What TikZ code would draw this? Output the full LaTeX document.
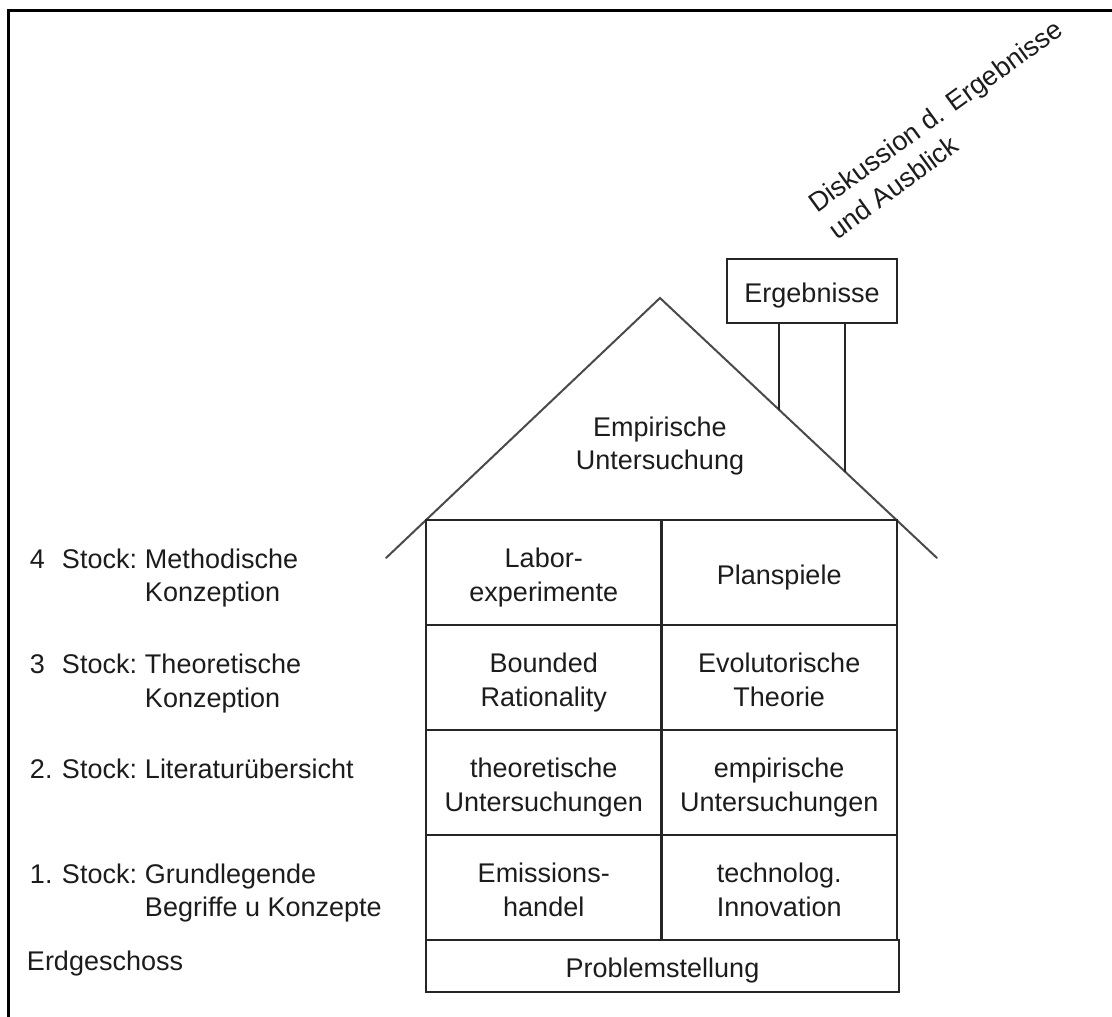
\documentclass[tikz,border=0pt]{standalone}
\usepackage{fontspec}
\setmainfont{Liberation Sans}
\usetikzlibrary{calc}
\definecolor{ink}{HTML}{1C1C1C}
\definecolor{wall}{HTML}{262626}
\definecolor{roofline}{HTML}{4A4A4A}
% zero-width strut: 29.5pt above and 6pt below the baseline
\newcommand\rowstrut{\rule[-6pt]{0pt}{35.5pt}}
\begin{document}
\begin{tikzpicture}[x=1pt,y=-1pt,
  txt/.style={font={\fontsize{27}{33.5}\selectfont\lineskiplimit=-100pt}, text=ink, inner sep=0pt, outer sep=0pt},
  cell/.style={txt, draw=wall, line width=2.4pt, minimum width=235.5pt, minimum height=105pt, align=center},
  floor/.style={txt, align=left, anchor=north west},
  roof/.style={draw=roofline, line width=2pt, line cap=round},
  leg/.style={draw=wall, line width=2.4pt},
  frame/.style={draw=black, line width=3pt}
]
\useasboundingbox (0,0) rectangle (1112,1017);

% frame along the top and left edge
\coordinate (frTR) at (1112,10);
\coordinate (frTL) at (8,10);
\coordinate (frBL) at (8,1017);
\draw[frame] (frTR) -- (frTL) -- (frBL);

% roof
\coordinate (apex) at (660,298);
\coordinate (eaveL) at (386,558);
\coordinate (eaveR) at (937,558);
\draw[roof] (eaveL) -- (apex) -- (eaveR);

% chimney with the results sign
\node[cell, minimum width=170pt, minimum height=64pt] (erg) at (812,291) {\rowstrut Ergebnisse};
\coordinate (legA) at ($(apex)!{119/277}!(eaveR)$);
\coordinate (legB) at ($(apex)!{185/277}!(eaveR)$);
\draw[leg] (erg.south -| legA) -- (legA);
\draw[leg] (erg.south -| legB) -- (legB);

% smoke
\node[txt, rotate=36, anchor=base west] (smoke1) at (817,213) {Diskussion d. Ergebnisse};
\node[txt, rotate=36, anchor=base west] (smoke2) at (837,240) {und Ausblick};

% attic
\node[txt, align=center] (emp) at (660,441) {\rowstrut Empirische\\\rowstrut Untersuchung};

% floors
\node[cell] (c4a) at (543.75,572.5) {\rowstrut Labor-\\\rowstrut experimente};
\node[cell] (c4b) at (779.25,572.5) {\rowstrut Planspiele};
\node[cell] (c3a) at (543.75,677.5) {\rowstrut Bounded\\\rowstrut Rationality};
\node[cell] (c3b) at (779.25,677.5) {\rowstrut Evolutorische\\\rowstrut Theorie};
\node[cell] (c2a) at (543.75,782.5) {\rowstrut theoretische\\\rowstrut Untersuchungen};
\node[cell] (c2b) at (779.25,782.5) {\rowstrut empirische\\\rowstrut Untersuchungen};
\node[cell] (c1a) at (543.75,887.5) {\rowstrut Emissions-\\\rowstrut handel};
\node[cell] (c1b) at (779.25,887.5) {\rowstrut technolog.\\\rowstrut Innovation};
\node[cell, minimum width=473pt, minimum height=52pt] (ground) at (662.5,966) {\rowstrut Problemstellung};

% floor names
\node[floor] (f4) at (30,538.5) {\rowstrut\makebox[32pt][l]{4}\makebox[83pt][l]{Stock:}Methodische\\\rowstrut\hspace*{115pt}Konzeption};
\node[floor] (f3) at (30,644) {\rowstrut\makebox[32pt][l]{3}\makebox[83pt][l]{Stock:}Theoretische\\\rowstrut\hspace*{115pt}Konzeption};
\node[floor] (f2) at (30,748.5) {\rowstrut\makebox[32pt][l]{2.}\makebox[83pt][l]{Stock:}Literaturübersicht};
\node[floor] (f1) at (30,853.5) {\rowstrut\makebox[32pt][l]{1.}\makebox[83pt][l]{Stock:}Grundlegende\\\rowstrut\hspace*{115pt}Begriffe u Konzepte};
\node[floor] (f0) at (27,940.5) {\rowstrut Erdgeschoss};
\end{tikzpicture}
\end{document}
